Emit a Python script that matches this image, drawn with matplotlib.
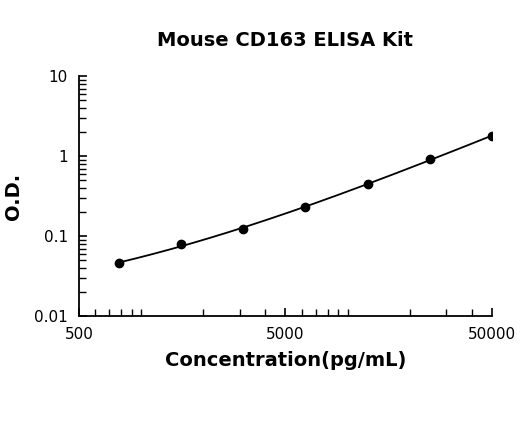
import numpy as np
import matplotlib.pyplot as plt
from matplotlib.ticker import FixedLocator, LogLocator, NullFormatter

conc = [781.25, 1562.5, 3125, 6250, 12500, 25000, 50000]
od = [0.046, 0.079, 0.124, 0.233, 0.443, 0.926, 1.78]

fig = plt.figure(figsize=(5.2, 4.21), dpi=100)
ax = fig.add_axes([0.152, 0.249, 0.794, 0.570])

# smooth fitted curve in log-log space
lx, ly = np.log10(conc), np.log10(od)
coef = np.polyfit(lx, ly, 3)
xs = np.linspace(lx[0], lx[-1], 200)
ax.plot(10**xs, 10**np.polyval(coef, xs), color='black', lw=1.3)
ax.plot(conc, od, 'o', color='black', ms=6)

ax.set_xscale('log')
ax.set_yscale('log')
ax.set_xlim(500, 50000)
ax.set_ylim(0.01, 10)
ax.xaxis.set_major_locator(FixedLocator([500, 5000, 50000]))
ax.xaxis.set_minor_locator(LogLocator(base=10, subs=np.arange(1, 10)))
ax.xaxis.set_minor_formatter(NullFormatter())
ax.set_xticklabels(['500', '5000', '50000'])
ax.set_yticks([0.01, 0.1, 1, 10])
ax.set_yticklabels(['0.01', '0.1', '1', '10'])
for s in ['top', 'right']:
    ax.spines[s].set_visible(False)
for s in ['left', 'bottom']:
    ax.spines[s].set_linewidth(1.3)
ax.tick_params(which='both', direction='in', labelsize=11)
ax.tick_params(which='major', length=6, width=1.2, pad=8)
ax.tick_params(which='minor', length=5, width=1)

ax.set_title('Mouse CD163 ELISA Kit', fontsize=14, fontweight='bold', pad=22)
ax.set_xlabel('Concentration(pg/mL)', fontsize=14, fontweight='bold', labelpad=6)
ax.set_ylabel('O.D.', fontsize=14, fontweight='bold', labelpad=8)

fig.savefig('out.png', dpi=100)
